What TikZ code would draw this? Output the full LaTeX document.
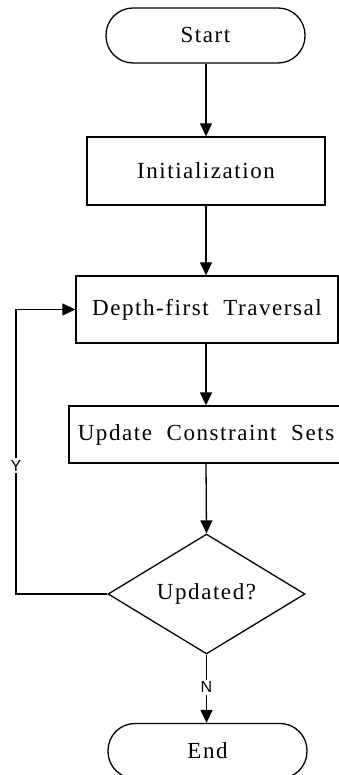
\documentclass[tikz,border=0pt]{standalone}
\usepackage{fontspec}
\setmainfont{Liberation Serif}[LetterSpace=6.8, WordSpace=2]
\newfontfamily\labelfont{Liberation Sans}
\usetikzlibrary{shapes.geometric,arrows.meta}
\begin{document}
\begin{tikzpicture}[x=1pt,y=1pt,
  line width=1.3pt,
  box/.style={draw, rectangle, inner sep=0pt, font=\fontsize{23}{27}\selectfont},
  terminal/.style={box, rounded corners=27pt},
  decision/.style={draw, diamond, inner sep=0pt, font=\fontsize{23}{27}\selectfont},
  flow/.style={-{Triangle[length=13pt,width=12pt]}},
  branch/.style={fill=white, inner sep=2pt, font=\labelfont\fontsize{16}{18}\selectfont}]
\useasboundingbox (0,0) rectangle (339,-775);

\node[terminal, minimum width=199pt, minimum height=55pt] (start) at (205.5,-35.5) {Start};
\node[box, minimum width=238pt, minimum height=68pt] (init) at (206,-171) {Initialization};
\node[box, minimum width=262pt, minimum height=67pt] (dfs) at (207,-309.5) {Depth-first Traversal};
\node[box, minimum width=274pt, minimum height=57pt] (upd) at (206,-434.5) {Update Constraint Sets};
\node[decision, minimum width=197pt, minimum height=100pt] (chk) at (206.5,-594) {Updated?};
\node[terminal, minimum width=199pt, minimum height=55pt] (end) at (207.5,-751) {End};

\coordinate (loopbot) at (16,-594);
\coordinate (looptop) at (16,-309.5);

\draw[flow] (start.south -| 206,0) -- (init.north -| 206,0);
\draw[flow] (init.south -| 206,0) -- (dfs.north -| 206,0);
\draw[flow] (dfs.south -| 206,0) -- (upd.north -| 206,0);
\draw[flow] (upd.south -| 206,0) -- (chk.north);
\draw[flow] (chk.south) -- node[branch, pos=0.48] {N} (end.north -| chk.south);
\draw[flow] (chk.west) -- (loopbot) -- node[branch, pos=0.45] {Y} (looptop) -- (dfs.west);
\end{tikzpicture}
\end{document}
